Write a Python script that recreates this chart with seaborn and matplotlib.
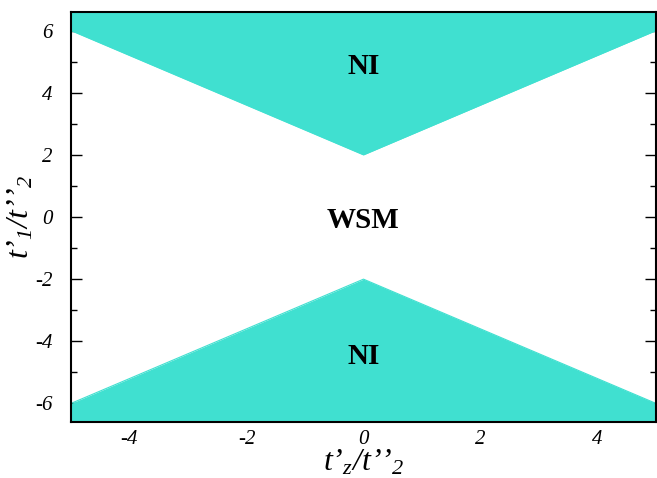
import matplotlib
matplotlib.use("Agg")
import matplotlib.pyplot as plt
import seaborn as sns
import pandas as pd

# phase boundary points
x_pts = [-5, 0, 5]
upper_edge = [6, 2, 6]
lower_edge = [-6, -2, -6]
y_top = 6.6
y_bottom = -6.6

x_ticks = [-4, -2, 0, 2, 4]
y_ticks = [-6, -4, -2, 0, 2, 4, 6]

labels = ["NI", "WSM", "NI"]
label_y = [4.85, -0.1, -4.5]

sns.set_style("ticks")
plt.rcParams['font.family'] = ['Liberation Serif', 'DejaVu Serif']
plt.rcParams['mathtext.fontset'] = 'custom'
plt.rcParams['mathtext.it'] = 'Liberation Serif:italic'
plt.rcParams['mathtext.rm'] = 'Liberation Serif:italic'
plt.rcParams['axes.unicode_minus'] = False
plt.rcParams['text.color'] = 'black'
plt.rcParams['axes.labelcolor'] = 'black'
plt.rcParams['xtick.color'] = 'black'
plt.rcParams['ytick.color'] = 'black'
plt.rcParams['axes.edgecolor'] = 'black'

fill_color = '#40E0D0'

fig = plt.figure(figsize=(6.57, 4.78), dpi=100)
ax = fig.add_axes([0.108, 0.117, 0.8905, 0.858])

df = pd.DataFrame({'x': x_pts, 'upper': upper_edge, 'lower': lower_edge})
ax.fill_between(df['x'], df['upper'], y_top, color=fill_color, linewidth=0)
ax.fill_between(df['x'], y_bottom, df['lower'], color=fill_color, linewidth=0)
sns.lineplot(data=df, x='x', y='upper', ax=ax, color=fill_color, linewidth=0.8)
sns.lineplot(data=df, x='x', y='lower', ax=ax, color=fill_color, linewidth=0.8)

for lab, ly in zip(labels, label_y):
    ax.text(0, ly, lab, ha='center', va='center', fontsize=21, fontweight='bold')

ax.set_xlim(-5, 5)
ax.set_ylim(y_bottom, y_top)
ax.set_xticks(x_ticks)
ax.set_yticks(y_ticks)
ax.set_xticklabels([str(v) for v in x_ticks], fontstyle='italic')
ax.set_yticklabels([str(v) for v in y_ticks], fontstyle='italic')
ax.set_xticks([-3, -1, 1, 3], minor=True)
ax.set_yticks([-5, -3, -1, 1, 3, 5], minor=True)
ax.tick_params(which='both', direction='in', top=True, right=True, labelsize=15, width=1)
ax.tick_params(which='major', length=8)
ax.tick_params(axis='x', which='major', pad=6)
ax.tick_params(axis='y', which='major', pad=13)
ax.tick_params(which='minor', length=4)
for s in ax.spines.values():
    s.set_linewidth(1.5)

ax.set_xlabel("t’$_z$/t’’$_2$", fontsize=23, fontstyle='italic', labelpad=-1)
ax.set_ylabel("t’$_1$/t’’$_2$", fontsize=23, fontstyle='italic', labelpad=0)

fig.savefig("out.png", dpi=100)
